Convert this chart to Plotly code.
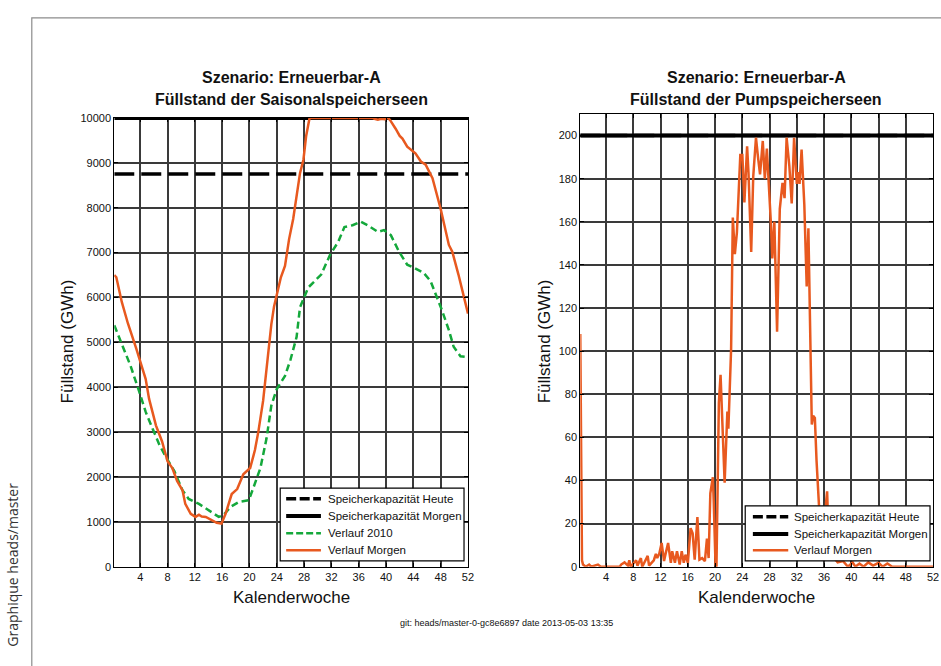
import plotly.graph_objects as go

# ---------------- data ----------------
season_weeks_morgen = [0.2, 0.5, 1.3, 2.2, 3.4, 3.9, 4.8, 5.3, 6.3, 7.2, 8.0, 8.7, 9.4, 10.2, 10.6,
                       11.4, 12.1, 12.6, 13.0, 13.6, 14.5, 15.2, 15.9, 16.5, 17.4, 18.2, 19.1, 20.1,
                       20.8, 21.3, 22.0, 22.5, 22.8, 23.2, 23.6, 24.0, 24.6, 25.2, 25.8, 26.4, 27.0,
                       27.4, 27.9, 28.3, 28.8, 32.0, 36.0, 38.0, 38.3, 38.8, 39.3, 39.8, 40.3, 40.6,
                       41.4, 42.0, 42.4, 43.1, 44.3, 45.1, 45.8, 46.8, 48.0, 49.2, 49.7, 50.6, 52.0]
season_values_morgen = [6500, 6450, 5900, 5420, 4870, 4610, 4180, 3740, 3150, 2790, 2350, 2200, 1910,
                        1700, 1400, 1180, 1110, 1160, 1120, 1110, 1040, 980, 960, 1180, 1620, 1730,
                        2060, 2200, 2600, 3010, 3700, 4470, 4830, 5400, 5800, 6050, 6450, 6700, 7300,
                        7750, 8400, 8770, 9070, 9600, 10000, 10000, 10000, 10000, 9980, 9960, 9980,
                        9970, 10000, 9950, 9760, 9600, 9540, 9360, 9210, 9030, 8960, 8660, 7970, 7170,
                        7020, 6510, 5640]

season_weeks_2010 = [0.2, 0.5, 1.4, 2.6, 3.9, 4.8, 5.8, 6.8, 7.7, 9.0, 10.2, 11.1, 12.6, 14.0, 15.5,
                     16.2, 17.2, 18.4, 19.9, 20.6, 21.6, 22.5, 23.2, 24.0, 25.2, 26.0, 26.9, 27.4,
                     28.6, 30.5, 31.8, 33.0, 33.9, 35.1, 36.3, 37.3, 38.8, 39.7, 40.7, 41.9, 43.1,
                     44.1, 45.5, 46.5, 47.5, 48.2, 49.2, 49.9, 50.9, 52.0]
season_values_2010 = [5380, 5270, 4900, 4470, 3880, 3450, 3080, 2720, 2460, 2130, 1700, 1510, 1400,
                      1260, 1110, 1150, 1330, 1440, 1480, 1770, 2200, 2860, 3590, 3960, 4250, 4610,
                      5120, 5780, 6220, 6510, 6950, 7240, 7570, 7610, 7690, 7610, 7460, 7500, 7390,
                      7020, 6730, 6660, 6550, 6370, 6000, 5710, 5270, 4900, 4690, 4670]

season_cap_heute = 8750
season_cap_morgen = 10000
season_yticks = [0, 1000, 2000, 3000, 4000, 5000, 6000, 7000, 8000, 9000, 10000]
season_yticklabels = ["0", "1000", "2000", "3000", "4000", "5000", "6000", "7000", "8000", "9000", "10000"]

pump_weeks = [0.2, 0.3, 0.45, 0.6, 1.0, 1.5, 1.8, 2.8, 3.2, 6.0, 6.2, 6.7, 7.2, 7.4, 7.6, 8.4, 8.6,
              9.1, 9.3, 10.1, 10.3, 11.0, 11.3, 11.5, 11.8, 12.15, 12.5, 12.7, 13.1, 13.5, 13.7,
              14.1, 14.4, 14.8, 15.1, 15.4, 15.65, 16.0, 16.4, 16.7, 17.0, 17.4, 17.7, 18.1, 18.5,
              18.8, 19.05, 19.3, 19.67, 19.8, 20.06, 20.2, 20.55, 20.8, 21.1, 21.4, 21.8, 21.95,
              22.35, 22.5, 22.6, 22.9, 23.2, 23.7, 24.0, 24.3, 24.7, 24.9, 25.3, 25.6, 26.0, 26.3,
              26.6, 27.0, 27.3, 27.6, 27.9, 28.2, 28.4, 28.7, 29.1, 29.5, 29.9, 30.2, 30.5, 30.9,
              31.25, 31.6, 32.0, 32.2, 32.4, 32.7, 33.1, 33.45, 33.7, 33.9, 34.2, 34.4, 34.65, 34.9,
              35.1, 35.4, 35.7, 36.0, 36.3, 36.45, 36.6, 37.0, 37.5, 38.0, 38.8, 39.5, 40.2, 40.6,
              41.2, 41.8, 42.5, 43.2, 44.0, 44.6, 45.3, 46.0, 52.0]
pump_values = [108, 60, 3, 1, 0, 1, 0, 1, 0, 0, 1, 2, 0.5, 3, 0, 3, 0.5, 4, 0, 5, 0.5, 3, 6, 4, 6,
               11, 2.6, 5.6, 11, 1.8, 7.2, 1.8, 7.2, 1, 7.2, 1.8, 5.6, 1.8, 17.9, 15.5, 3.3, 23,
               3.3, 4, 2.6, 13, 4, 34, 41.5, 30, 1, 0, 76, 89, 60, 39, 72, 64, 101, 142, 162, 145,
               155, 191, 191, 169, 195, 183, 146, 181, 199, 190, 182, 197.5, 180, 194, 178, 159,
               143, 160, 109, 166, 178, 171, 199, 186, 168.5, 199, 177.6, 183, 177.6, 193.5, 168,
               130, 157, 114, 66, 70, 69, 49, 35, 20, 5, 3, 30, 35, 20, 8, 4, 2, 2.6, 0, 2, 0, 1.5,
               0, 2, 0.5, 1.8, 0, 1.5, 0, 0]

pump_cap_heute = 200
pump_cap_morgen = 200
pump_yticks = [0, 20, 40, 60, 80, 100, 120, 140, 160, 180, 200]

week_ticks = [4, 8, 12, 16, 20, 24, 28, 32, 36, 40, 44, 48, 52]
week_range = [0.2, 52]

label_heute = "Speicherkapazität Heute"
label_morgen = "Speicherkapazität Morgen"
label_2010 = "Verlauf 2010"
label_verlauf = "Verlauf Morgen"

# ---------------- styling ----------------
W, H = 941, 666
FONT = "Liberation Sans, Arial, Helvetica, sans-serif"
ORANGE = "#E8591F"
GREEN = "#14A83B"
GRID = "#3a3a3a"

STYLE_HEUTE = dict(color="black", width=3.5, dash="20px,7px")
STYLE_MORGEN = dict(color="black", width=4)
STYLE_2010 = dict(color=GREEN, width=2.5, dash="7px,4px")
STYLE_VERLAUF = dict(color=ORANGE, width=2.5)


def px_x(p):
    return p / W


def px_y(p):
    return 1 - p / H


fig = go.Figure()

# left plot traces
fig.add_trace(go.Scatter(x=week_range, y=[season_cap_heute] * 2, mode="lines", name=label_heute,
                         line=STYLE_HEUTE, xaxis="x", yaxis="y"))
fig.add_trace(go.Scatter(x=week_range, y=[season_cap_morgen] * 2, mode="lines", name=label_morgen,
                         line=STYLE_MORGEN, xaxis="x", yaxis="y", cliponaxis=False))
fig.add_trace(go.Scatter(x=season_weeks_2010, y=season_values_2010, mode="lines", name=label_2010,
                         line=STYLE_2010, xaxis="x", yaxis="y"))
fig.add_trace(go.Scatter(x=season_weeks_morgen, y=season_values_morgen, mode="lines", name=label_verlauf,
                         line=STYLE_VERLAUF, xaxis="x", yaxis="y", cliponaxis=False))

# right plot traces
fig.add_trace(go.Scatter(x=week_range, y=[pump_cap_heute] * 2, mode="lines", name=label_heute,
                         line=STYLE_HEUTE, xaxis="x2", yaxis="y2"))
fig.add_trace(go.Scatter(x=week_range, y=[pump_cap_morgen] * 2, mode="lines", name=label_morgen,
                         line=STYLE_MORGEN, xaxis="x2", yaxis="y2"))
fig.add_trace(go.Scatter(x=pump_weeks, y=pump_values, mode="lines", name=label_verlauf,
                         line=STYLE_VERLAUF, xaxis="x2", yaxis="y2"))

axis_common = dict(
    showline=True, linecolor="black", linewidth=1, mirror="ticks",
    ticks="inside", ticklen=4, tickcolor="black", tickwidth=1,
    showgrid=True, gridcolor=GRID, gridwidth=1.5, zeroline=False,
    tickfont=dict(family=FONT, size=11, color="#111"),
)

fig.update_layout(
    width=W, height=H,
    margin=dict(l=0, r=0, t=0, b=0),
    paper_bgcolor="white", plot_bgcolor="white",
    font=dict(family=FONT, color="#111"),
    showlegend=False,
    xaxis=dict(domain=[px_x(115), px_x(471)], range=week_range, tickvals=week_ticks,
               anchor="y", **axis_common),
    yaxis=dict(domain=[px_y(571), px_y(114)], range=[0, 10000], tickvals=season_yticks,
               ticktext=season_yticklabels, anchor="x", **axis_common),
    xaxis2=dict(domain=[px_x(584), px_x(939)], range=week_range, tickvals=week_ticks,
                anchor="y2", **axis_common),
    yaxis2=dict(domain=[px_y(571), px_y(110)], range=[0, 210], tickvals=pump_yticks,
                anchor="x2", **axis_common),
)

ann = []
shapes = []

# legend boxes (real text + sample lines)
LEG_FONT = dict(family=FONT, size=11.5, color="#111")
legend_specs = [
    ((282, 467, 491, 565), 288, 323, 328,
     [(501.7, STYLE_HEUTE, label_heute, "10px,3.5px"),
      (519.3, STYLE_MORGEN, label_morgen, None),
      (537.0, STYLE_2010, label_2010, "7px,3px"),
      (554.3, STYLE_VERLAUF, label_verlauf, None)]),
    ((750, 936, 509, 565), 757.7, 793.3, 797,
     [(520.0, STYLE_HEUTE, label_heute, "10px,3.5px"),
      (537.7, STYLE_MORGEN, label_morgen, None),
      (554.3, STYLE_VERLAUF, label_verlauf, None)]),
]
for (bx0, bx1, by0, by1), sx0, sx1, tx, rows in legend_specs:
    shapes.append(dict(type="rect", xref="paper", yref="paper", layer="above",
                       x0=px_x(bx0), x1=px_x(bx1), y0=px_y(by1), y1=px_y(by0),
                       line=dict(color="black", width=1.2), fillcolor="white"))
    for ry, style, label, dash in rows:
        ln = dict(color=style["color"], width=style["width"])
        if dash:
            ln["dash"] = dash
        shapes.append(dict(type="line", xref="paper", yref="paper", layer="above",
                           x0=px_x(sx0), x1=px_x(sx1), y0=px_y(ry), y1=px_y(ry), line=ln))
        ann.append(dict(x=px_x(tx), y=px_y(ry), xref="paper", yref="paper", showarrow=False,
                        text=label, font=LEG_FONT, xanchor="left", yanchor="middle"))

title_font = dict(family=FONT, size=16, color="#111")
for cx, line2 in [(293, "Füllstand der Saisonalspeicherseen"), (761, "Füllstand der Pumpspeicherseen")]:
    ann.append(dict(x=px_x(cx), y=px_y(73), xref="paper", yref="paper", showarrow=False,
                    text="<b>Szenario: Erneuerbar-A</b>", font=title_font,
                    xanchor="center", yanchor="middle"))
    ann.append(dict(x=px_x(cx), y=px_y(95), xref="paper", yref="paper", showarrow=False,
                    text="<b>" + line2 + "</b>", font=title_font,
                    xanchor="center", yanchor="middle"))

label_font = dict(family=FONT, size=17, color="#111")
for cx in [293, 761]:
    ann.append(dict(x=px_x(cx), y=px_y(602), xref="paper", yref="paper", showarrow=False,
                    text="Kalenderwoche", font=label_font, xanchor="center", yanchor="middle"))
for cx in [68, 548]:
    ann.append(dict(x=px_x(cx), y=px_y(342), xref="paper", yref="paper", showarrow=False,
                    text="Füllstand (GWh)", font=label_font, textangle=-90,
                    xanchor="center", yanchor="middle"))

ann.append(dict(x=px_x(510), y=px_y(628), xref="paper", yref="paper", showarrow=False,
                text="git: heads/master-0-gc8e6897 date 2013-05-03 13:35",
                font=dict(family=FONT, size=9, color="#111"), xanchor="center", yanchor="middle"))
ann.append(dict(x=px_x(13), y=px_y(569), xref="paper", yref="paper", showarrow=False,
                text="Graphique heads/master",
                font=dict(family="Open Sans, DejaVu Sans, sans-serif", size=14, color="#333"),
                textangle=-90, xanchor="center", yanchor="middle"))

# outer gray frame
shapes.insert(0, dict(type="rect", xref="paper", yref="paper",
                      x0=px_x(32), y0=-0.05, x1=1.05, y1=px_y(12),
                      line=dict(color="#8c8c8c", width=1.2), fillcolor="rgba(0,0,0,0)", layer="below"))

fig.update_layout(annotations=ann, shapes=shapes)

fig.write_html(
    "out.html",
    config={"displayModeBar": False},
    post_script=(
        "document.documentElement.style.margin='0';"
        "document.body.style.margin='0';document.body.style.overflow='hidden';"
        "var d=document.getElementById('{plot_id}');"
        "d.style.position='fixed';d.style.left='0px';d.style.top='0px';"
    ),
)
